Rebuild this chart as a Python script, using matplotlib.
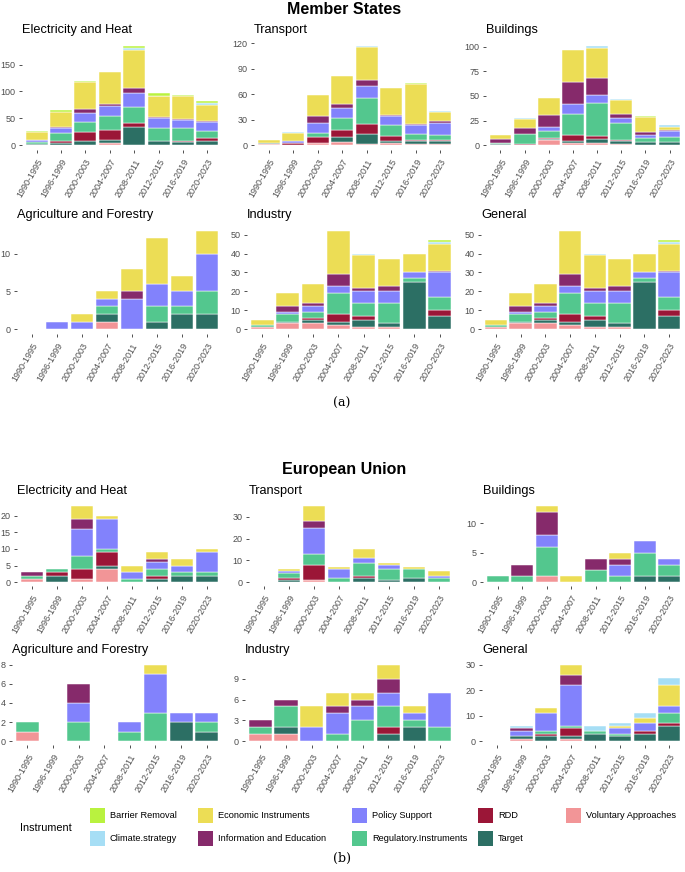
import matplotlib
matplotlib.use("Agg")
import matplotlib.pyplot as plt
from matplotlib.patches import Rectangle
import numpy as np

plt.rcParams['font.family'] = ['Liberation Sans', 'DejaVu Sans']

periods = ["1990-1995", "1996-1999", "2000-2003", "2004-2007",
           "2008-2011", "2012-2015", "2016-2019", "2020-2023"]

instruments = ["Barrier Removal", "Climate.strategy", "Economic Instruments",
               "Information and Education", "Policy Support",
               "Regulatory.Instruments", "RDD", "Target", "Voluntary Approaches"]

inst_colors = ["#b9f23f", "#a6def5", "#ecdd55", "#862a6b", "#8282fc",
               "#53c78e", "#9b1637", "#2c6f64", "#f29597"]

# stacking order, bottom -> top; every data row below follows this column order
stack_order = ["Voluntary Approaches", "Target", "RDD", "Regulatory.Instruments",
               "Policy Support", "Information and Education",
               "Economic Instruments", "Climate.strategy", "Barrier Removal"]

# ---------------- Member States (one row per period) ----------------
ms_electricity = [
    [1, 1, 0, 3, 4, 1, 15, 0, 2],
    [0, 3, 5, 14, 9, 2, 29, 0, 3],
    [1, 6, 17, 19, 17, 7, 50, 0, 3],
    [3, 7, 18, 26, 19, 4, 60, 0, 0],
    [1, 32, 8, 30, 26, 10, 70, 4, 4],
    [1, 7, 0, 24, 19, 2, 38, 1, 6],
    [0, 5, 2, 25, 15, 1, 43, 0, 3],
    [1, 7, 5, 13, 17, 2, 30, 3, 5],
]
ms_transport = [
    [1, 1, 0, 0, 1, 0, 3, 0, 0],
    [0, 0, 2, 1, 2, 0, 9, 1, 0],
    [3, 0, 7, 4, 12, 8, 25, 0, 0],
    [4, 5, 9, 14, 12, 4, 33, 0, 0],
    [1, 12, 12, 30, 15, 7, 39, 1, 0],
    [2, 3, 6, 13, 10, 2, 31, 0, 0],
    [1, 4, 1, 7, 11, 1, 47, 0, 1],
    [1, 4, 1, 6, 14, 2, 11, 1, 0],
]
ms_buildings = [
    [0, 1, 0, 1, 0, 4, 4, 0, 0],
    [0, 0, 1, 10, 0, 6, 10, 1, 0],
    [5, 1, 1, 7, 4, 13, 17, 0, 0],
    [2, 2, 6, 22, 10, 22, 33, 0, 0],
    [2, 4, 3, 34, 8, 17, 31, 2, 0],
    [1, 3, 1, 17, 6, 4, 14, 1, 0],
    [0, 3, 0, 4, 3, 3, 16, 0, 1],
    [0, 3, 0, 5, 6, 1, 3, 2, 0],
]
ms_agriculture = [
    [0, 0, 0, 0, 0, 0, 0, 0, 0],
    [0, 0, 0, 0, 1, 0, 0, 0, 0],
    [0, 0, 0, 0, 1, 0, 1, 0, 0],
    [1, 1, 0, 1, 1, 0, 1, 0, 0],
    [0, 0, 0, 0, 4, 1, 3, 0, 0],
    [0, 1, 0, 2, 3, 0, 6, 0, 0],
    [0, 2, 0, 1, 2, 0, 2, 0, 0],
    [0, 2, 0, 3, 5, 0, 3, 0, 0],
]
ms_industry = [
    [1, 0, 0, 1, 0, 0, 3, 0, 0],
    [3, 1, 0, 4, 1, 3, 7, 0, 0],
    [3, 2, 1, 3, 3, 2, 10, 0, 0],
    [2, 2, 4, 11, 4, 6, 23, 0, 0],
    [1, 4, 2, 7, 6, 2, 17, 1, 0],
    [1, 2, 0, 11, 6, 3, 14, 0, 0],
    [0, 25, 0, 2, 3, 0, 10, 0, 0],
    [0, 7, 3, 7, 13, 1, 14, 1, 1],
]
ms_general = [
    [1, 0, 0, 1, 0, 0, 3, 0, 0],
    [3, 1, 0, 4, 1, 3, 7, 0, 0],
    [3, 2, 1, 3, 3, 2, 10, 0, 0],
    [2, 2, 4, 11, 4, 6, 23, 0, 0],
    [1, 4, 2, 7, 6, 2, 17, 1, 0],
    [1, 2, 0, 11, 6, 3, 14, 0, 0],
    [0, 25, 0, 2, 3, 0, 10, 0, 0],
    [0, 7, 3, 7, 13, 1, 14, 1, 1],
]

# ---------------- European Union (one row per period) ----------------
eu_electricity = [
    [1, 0, 0, 1, 0, 1, 0, 0, 0],
    [0, 2, 1, 1, 0, 0, 0, 0, 0],
    [1, 0, 3, 4, 8, 3, 4, 0, 0],
    [4, 1, 4, 1, 9, 0, 1, 0, 0],
    [0, 0, 0, 1, 2, 0, 2, 0, 0],
    [0, 1, 1, 2, 2, 1, 2, 0, 0],
    [0, 2, 0, 1, 2, 0, 2, 0, 0],
    [0, 2, 0, 1, 6, 0, 1, 0, 0],
]
eu_transport = [
    [0, 0, 0, 0, 0, 0, 0, 0, 0],
    [0, 1, 1, 2, 1, 0, 1, 0, 0],
    [1, 0, 7, 5, 12, 3, 7, 0, 0],
    [0, 0, 0, 2, 4, 0, 1, 0, 0],
    [0, 2, 1, 6, 2, 0, 4, 0, 0],
    [0, 1, 0, 5, 2, 0, 1, 0, 0],
    [0, 2, 0, 4, 0, 0, 1, 0, 0],
    [0, 0, 0, 2, 1, 0, 2, 0, 0],
]
eu_buildings = [
    [0, 0, 0, 1, 0, 0, 0, 0, 0],
    [0, 0, 0, 1, 0, 2, 0, 0, 0],
    [1, 0, 0, 5, 2, 4, 1, 0, 0],
    [0, 0, 0, 0, 0, 0, 1, 0, 0],
    [0, 0, 0, 2, 0, 2, 0, 0, 0],
    [0, 0, 0, 1, 2, 1, 1, 0, 0],
    [0, 1, 0, 4, 2, 0, 0, 0, 0],
    [0, 1, 0, 2, 1, 0, 0, 0, 0],
]
eu_agriculture = [
    [1, 0, 0, 1, 0, 0, 0, 0, 0],
    [0, 0, 0, 0, 0, 0, 0, 0, 0],
    [0, 0, 0, 2, 2, 2, 0, 0, 0],
    [0, 0, 0, 0, 0, 0, 0, 0, 0],
    [0, 0, 0, 1, 1, 0, 0, 0, 0],
    [0, 0, 0, 3, 4, 0, 1, 0, 0],
    [0, 2, 0, 0, 1, 0, 0, 0, 0],
    [0, 1, 0, 1, 1, 0, 0, 0, 0],
]
eu_industry = [
    [1, 0, 0, 1, 0, 1, 0, 0, 0],
    [1, 1, 0, 3, 0, 1, 0, 0, 0],
    [0, 0, 0, 0, 2, 0, 3, 0, 0],
    [0, 0, 0, 1, 3, 1, 2, 0, 0],
    [0, 0, 0, 3, 2, 1, 1, 0, 0],
    [0, 1, 1, 3, 2, 2, 2, 0, 0],
    [0, 2, 0, 1, 1, 0, 1, 0, 0],
    [0, 0, 0, 2, 5, 0, 0, 0, 0],
]
eu_general = [
    [0, 0, 0, 0, 0, 0, 0, 0, 0],
    [1, 1, 0, 0, 2, 1, 0, 1, 0],
    [0, 2, 1, 1, 7, 0, 2, 0, 0],
    [1, 1, 3, 1, 16, 4, 4, 0, 0],
    [0, 3, 0, 1, 0, 0, 0, 2, 0],
    [0, 2, 0, 1, 2, 0, 1, 1, 0],
    [0, 3, 1, 0, 3, 0, 2, 2, 0],
    [0, 6, 1, 4, 3, 0, 8, 3, 0],
]

facet_titles = ["Electricity and Heat", "Transport", "Buildings",
                "Agriculture and Forestry", "Industry", "General"]

ms_yticks = [[0, 50, 100, 150], [0, 30, 60, 90, 120], [0, 25, 50, 75, 100],
             [0, 5, 10], [0, 10, 20, 30, 40, 50], [0, 10, 20, 30, 40, 50]]
eu_yticks = [[0, 5, 10, 15, 20], [0, 10, 20, 30], [0, 5, 10],
             [0, 2, 4, 6, 8], [0, 3, 6, 9], [0, 10, 20, 30]]

W, H = 685, 872
fig = plt.figure(figsize=(W / 100, H / 100), dpi=100)
fig.patch.set_facecolor("white")

color_of = dict(zip(instruments, inst_colors))


def px_axes(xl, xr, yt, yb):
    return fig.add_axes([xl / W, 1 - yb / H, (xr - xl) / W, (yb - yt) / H])


def draw_panel(ax, data, yticks, title, title_base):
    arr = np.array(data, dtype=float)
    x = np.arange(1, len(periods) + 1)
    bottom = np.zeros(len(periods))
    for j, inst in enumerate(stack_order):
        vals = arr[:, j]
        m = vals > 0
        if m.any():
            ax.bar(x[m], vals[m], 0.9, bottom=bottom[m], color=color_of[inst],
                   edgecolor="white", linewidth=0.35)
        bottom += vals
    top = bottom.max()
    ax.set_ylim(-0.05 * top, 1.05 * top)
    ax.set_xlim(0.4, len(periods) + 0.6)
    ax.set_yticks(yticks)
    ax.set_xticks(x)
    ax.set_xticklabels(periods, rotation=60, ha="right", rotation_mode="anchor")
    for s in ax.spines.values():
        s.set_visible(False)
    ax.tick_params(axis="both", length=2.5, width=0.6, color="#333333",
                   labelsize=6.5, labelcolor="#4d4d4d", pad=2)
    ax.tick_params(axis="x", pad=3)
    ax.set_facecolor("white")
    pos = ax.get_position()
    fig.text(pos.x0, 1 - title_base / H, title, fontsize=9.2, ha="left",
             va="baseline", color="black")


# panel rectangles (pixels): left, right, top, bottom
ms_rects = [(22, 222, 41, 150), (254, 455, 41, 150), (486, 684, 41, 150),
            (17, 222, 226, 334), (247, 455, 226, 334), (481, 684, 226, 334)]
eu_rects = [(17, 222, 502, 586), (249, 454, 502, 586), (483, 684, 502, 586),
            (12, 222, 661, 745), (245, 455, 661, 745), (482, 684, 661, 745)]
ms_title_base = [33, 33, 33, 218, 218, 218]
eu_title_base = [494, 494, 494, 653, 653, 653]

ms_data = [ms_electricity, ms_transport, ms_buildings,
           ms_agriculture, ms_industry, ms_general]
eu_data = [eu_electricity, eu_transport, eu_buildings,
           eu_agriculture, eu_industry, eu_general]

for i in range(6):
    ax = px_axes(*ms_rects[i])
    draw_panel(ax, ms_data[i], ms_yticks[i], facet_titles[i], ms_title_base[i])
    ax = px_axes(*eu_rects[i])
    draw_panel(ax, eu_data[i], eu_yticks[i], facet_titles[i], eu_title_base[i])

fig.text(344 / W, 1 - 13.5 / H, "Member States", fontsize=11.5, fontweight="bold",
         ha="center", va="baseline")
fig.text(344 / W, 1 - 473.5 / H, "European Union", fontsize=11.5, fontweight="bold",
         ha="center", va="baseline")

fig.text(342 / W, 1 - 403 / H, "(a)", fontsize=9, ha="center", va="center",
         family=["DejaVu Serif"])
fig.text(342 / W, 1 - 858 / H, "(b)", fontsize=9, ha="center", va="center",
         family=["DejaVu Serif"])

# legend, laid out like the ggplot guide (2 rows)
fig.text(20 / W, 1 - 828 / H, "Instrument", fontsize=7.8, ha="left", va="center")
col_x = [90, 198, 352, 478, 566]
row_y = [815, 838]
sw = 15
for k, (name, col) in enumerate(zip(instruments, inst_colors)):
    c, r = k // 2, k % 2
    x0, yc = col_x[c], row_y[r]
    fig.patches.append(Rectangle((x0 / W, 1 - (yc + sw / 2) / H), sw / W, sw / H,
                                 transform=fig.transFigure, facecolor=col,
                                 edgecolor="none"))
    fig.text((x0 + sw + 5) / W, 1 - yc / H, name, fontsize=6.7, ha="left",
             va="center")

fig.savefig("out.png", dpi=100, facecolor="white")
